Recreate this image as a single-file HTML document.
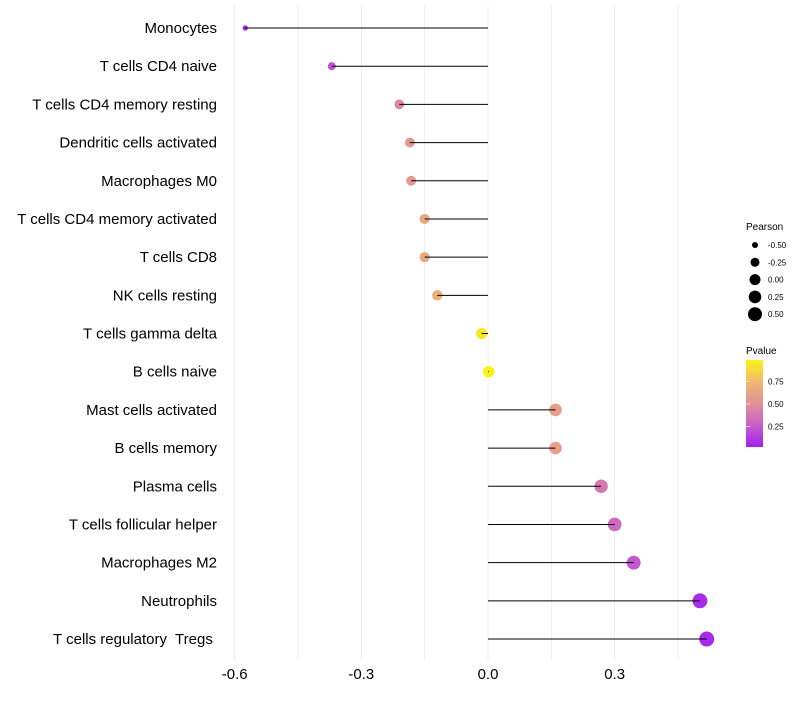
<!DOCTYPE html>
<html><head><meta charset="utf-8"><style>
body{margin:0;background:#fff;font-family:"Liberation Sans",sans-serif}
svg text{font-family:"Liberation Sans",sans-serif;white-space:pre}
</style></head><body>
<svg id="chart" width="800" height="700"></svg>
<script>
const categories=["Monocytes","T cells CD4 naive","T cells CD4 memory resting","Dendritic cells activated","Macrophages M0","T cells CD4 memory activated","T cells CD8","NK cells resting","T cells gamma delta","B cells naive","Mast cells activated","B cells memory","Plasma cells","T cells follicular helper","Macrophages M2","Neutrophils","T cells regulatory  Tregs "];
const pearson=[-0.575,-0.37,-0.21,-0.185,-0.182,-0.15,-0.15,-0.12,-0.015,0.002,0.16,0.16,0.268,0.30,0.345,0.502,0.518];
const pvalue=[0.02,0.2,0.45,0.55,0.55,0.65,0.65,0.7,0.95,0.99,0.6,0.6,0.38,0.3,0.22,0.05,0.04];
const xTicks=[-0.6,-0.3,0.0,0.3];
const xTickLabels=["-0.6","-0.3","0.0","0.3"];
const sizeLegend=[-0.5,-0.25,0,0.25,0.5];
const sizeLegendLabels=["-0.50","-0.25","0.00","0.25","0.50"];
const pLegend=[0.25,0.5,0.75];

const NS="http://www.w3.org/2000/svg";
const svg=document.getElementById('chart');
const x=v=>488+v*422.2;
const y=i=>28+i*38.19;
const r=v=>Math.sqrt(Math.max(2.5,32.7+45*v));
const stops=[[0,[160,32,240]],[0.25,[200,96,200]],[0.5,[224,144,154]],[0.75,[240,184,112]],[1,[250,245,20]]];
function col(p){for(let k=1;k<stops.length;k++){if(p<=stops[k][0]){const a=stops[k-1],b=stops[k],t=(p-a[0])/(b[0]-a[0]);return 'rgb('+a[1].map((c,j)=>Math.round(c+(b[1][j]-c)*t)).join(',')+')';}}return 'rgb(250,245,20)';}
function el(t,at,txt){const e=document.createElementNS(NS,t);for(const k in at)e.setAttribute(k,at[k]);if(txt!==undefined)e.textContent=txt;svg.appendChild(e);return e;}
for(let v=-0.6;v<=0.451;v+=0.15){const g=el('line',{x1:x(v),x2:x(v),y1:5,y2:660,stroke:'#ebebeb','stroke-width':0.8});

}
xTicks.forEach((v,i)=>{const t=el('text',{x:x(v),y:679,'font-size':15,'text-anchor':'middle',fill:'#000'},xTickLabels[i]);

});
categories.forEach((c,i)=>{
const t=el('text',{x:217,y:y(i)+5,'font-size':15,'text-anchor':'end',fill:'#000'},c);


const d=el('circle',{cx:x(pearson[i]),cy:y(i),r:r(pearson[i]),fill:col(pvalue[i])});


const l=el('line',{x1:x(0),x2:x(pearson[i]),y1:y(i),y2:y(i),stroke:'#000','stroke-width':1});


});
const lt=el('text',{x:746,y:230,'font-size':10},'Pearson');


sizeLegend.forEach((v,i)=>{const cy=245+i*17.3;
const c=el('circle',{cx:755,cy:cy,r:[3,4.5,5.5,6.3,7][i]});


const t=el('text',{x:768,y:cy+3,'font-size':8},sizeLegendLabels[i]);

});
const pt=el('text',{x:746,y:354,'font-size':10},'Pvalue');


const defs=el('defs',{});
const lg=document.createElementNS(NS,'linearGradient');lg.setAttribute('id','pg');lg.setAttribute('x1','0');lg.setAttribute('y1','1');lg.setAttribute('x2','0');lg.setAttribute('y2','0');defs.appendChild(lg);
stops.forEach(s=>{const st=document.createElementNS(NS,'stop');st.setAttribute('offset',s[0]);st.setAttribute('stop-color','rgb('+s[1].join(',')+')');lg.appendChild(st);});
const bar=el('rect',{x:746,y:360,width:17,height:87,fill:'url(#pg)'});


const py=p=>449-p*90;
pLegend.forEach(p=>{
const tk=el('line',{x1:746,x2:750,y1:py(p),y2:py(p),stroke:'#fff','stroke-width':0.6});


const t=el('text',{x:768,y:py(p)+3,'font-size':8},p.toFixed(2));

});
</script>
</body></html>
